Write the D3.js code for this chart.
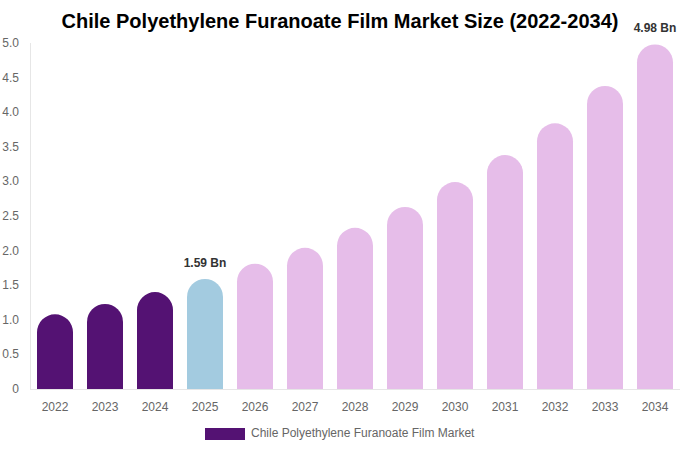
<!DOCTYPE html>
<html><head><meta charset="utf-8">
<script src="https://cdn.jsdelivr.net/npm/d3@7"></script>
<style>body{margin:0;background:#fff}text{font-family:"Liberation Sans",Arial,sans-serif}</style>
</head><body>
<svg width="680" height="450"></svg>
<script>
const years = ["2022","2023","2024","2025","2026","2027","2028","2029","2030","2031","2032","2033","2034"];
const values = [1.08,1.23,1.40,1.59,1.81,2.04,2.33,2.63,2.99,3.38,3.84,4.38,4.98];
const colors = ["#541273","#541273","#541273","#a3cbe0","#e6bde9","#e6bde9","#e6bde9","#e6bde9","#e6bde9","#e6bde9","#e6bde9","#e6bde9","#e6bde9"];
const yTicks = [0,0.5,1,1.5,2,2.5,3,3.5,4,4.5,5];
const labelled = {"2025":"1.59 Bn","2034":"4.98 Bn"};

var svg = d3.select("svg");
var x = d3.scaleBand().domain(years).range([30,680]).paddingInner(0.28).paddingOuter(0.14);
var y = d3.scaleLinear().domain([0,5]).range([389,43]);

svg.append("text").attr("x",340).attr("y",28).attr("text-anchor","middle")
  .attr("font-size",20).attr("font-weight","bold").attr("fill","#000")
  .text("Chile Polyethylene Furanoate Film Market Size (2022-2034)");

svg.append("line").attr("x1",30.5).attr("x2",30.5).attr("y1",43).attr("y2",389).attr("stroke","#e6e6e6");
svg.append("line").attr("x1",30).attr("x2",680).attr("y1",389.5).attr("y2",389.5).attr("stroke","#e6e6e6");

svg.selectAll(".yt").data(yTicks).enter().append("text")
  .attr("x",19).attr("y",d=>y(d)+4).attr("text-anchor","end")
  .attr("font-size",12).attr("fill","#666").text(d=>d.toFixed(1).replace(/^0\.0$/,"0"));

svg.selectAll(".xt").data(years).enter().append("text")
  .attr("x",d=>x(d)+x.bandwidth()/2).attr("y",411).attr("text-anchor","middle")
  .attr("font-size",12).attr("fill","#666").text(d=>d);

// bars with fully rounded tops
svg.selectAll(".bar").data(years).enter().append("path")
  .attr("fill",(d,i)=>colors[i])
  .attr("d",(d,i)=>{
    const w = x.bandwidth(), r = w/2, x0 = x(d), top = y(values[i]), b = y(0);
    return `M${x0},${b}V${top+r}A${r},${r} 0 0 1 ${x0+w},${top+r}V${b}Z`;
  });

svg.selectAll(".lbl").data(years.filter(d=>labelled[d])).enter().append("text")
  .attr("x",d=>x(d)+x.bandwidth()/2).attr("y",d=>y(values[years.indexOf(d)])-12)
  .attr("text-anchor","middle").attr("font-size",12).attr("font-weight","bold").attr("fill","#333")
  .text(d=>labelled[d]);

svg.append("rect").attr("x",205).attr("y",428).attr("width",40).attr("height",12).attr("fill","#541273");
svg.append("text").attr("x",251).attr("y",437).attr("font-size",12).attr("fill","#666")
  .text("Chile Polyethylene Furanoate Film Market");
</script>
</body></html>
